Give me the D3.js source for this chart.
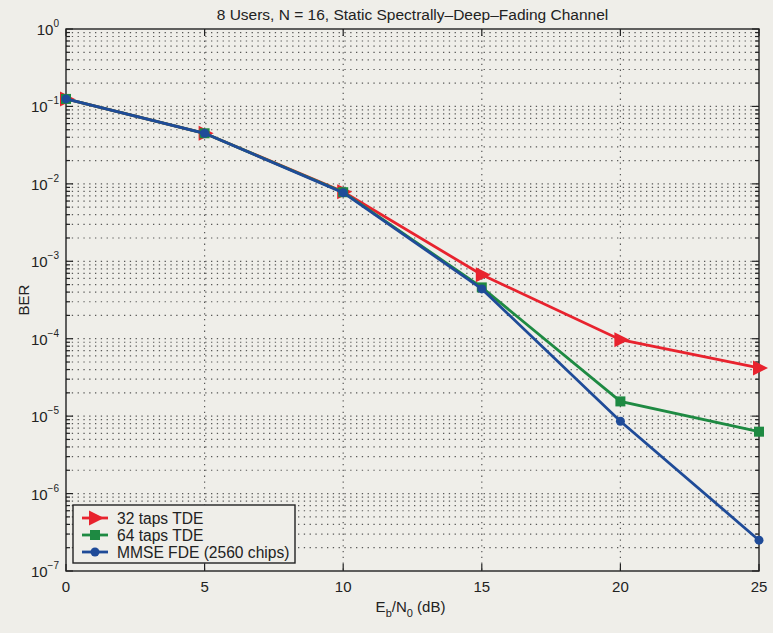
<!DOCTYPE html>
<html>
<head>
<meta charset="utf-8">
<script src="https://cdn.jsdelivr.net/npm/d3@7"></script>
<style>
  body { margin: 0; background: #efeee9; }
  svg { display: block; font-family: "Liberation Sans", Arial, sans-serif; }
</style>
</head>
<body>
<div id="okvir"></div>
<script>
const snrDb = [0, 5, 10, 15, 20, 25]
const ber32 = [0.125, 0.045, 0.0079, 6.7e-4, 9.7e-5, 4.2e-5]
const ber64 = [0.125, 0.045, 0.0078, 4.6e-4, 1.55e-5, 6.3e-6]
const berFde = [0.125, 0.045, 0.0077, 4.4e-4, 8.6e-6, 2.5e-7]
const xTicks = [0, 5, 10, 15, 20, 25]
const yExponents = [0, -1, -2, -3, -4, -5, -6, -7]
const seriesNames = ["32 taps TDE", "64 taps TDE", "MMSE FDE (2560 chips)"]

const sirina = 773, visina = 633
const margine = { top: 29, right: 14, bottom: 62, left: 66 }
const grSirina = sirina - margine.left - margine.right
const grVisina = visina - margine.top - margine.bottom

const okvir = d3.select("#okvir").append("svg")
  .attr("width", sirina).attr("height", visina)

const granice = okvir.append("g")
  .attr("transform", `translate(${margine.left},${margine.top})`)

const xSkala = d3.scaleLinear().domain([0, 25]).range([0, grSirina])
const ySkala = d3.scaleLog().domain([1e-7, 1]).range([grVisina, 0])

// minor values 2..9 per decade
const minorY = []
yExponents.slice(1).forEach(e => {
  for (let k = 2; k <= 9; k++) minorY.push(k * Math.pow(10, e))
})
const majorY = yExponents.map(e => Math.pow(10, e))

const gridBoja = "#333"
// horizontal grid
granice.append("g").selectAll("line")
  .data(minorY.concat(majorY.slice(1, -1)))
  .enter().append("line")
    .attr("x1", 0).attr("x2", grSirina)
    .attr("y1", d => ySkala(d)).attr("y2", d => ySkala(d))
    .attr("stroke", gridBoja).attr("stroke-width", 1.2).attr("opacity", 0.8)
    .attr("stroke-dasharray", "1.3,4.5")
// vertical grid
granice.append("g").selectAll("line")
  .data(xTicks.slice(1, -1))
  .enter().append("line")
    .attr("x1", d => xSkala(d)).attr("x2", d => xSkala(d))
    .attr("y1", 0).attr("y2", grVisina)
    .attr("stroke", gridBoja).attr("stroke-width", 1.2).attr("opacity", 0.8)
    .attr("stroke-dasharray", "1.3,4.5")

// ticks (inside, both sides)
const tickG = granice.append("g").attr("stroke", "#222").attr("stroke-width", 1.2)
majorY.forEach(d => {
  tickG.append("line").attr("x1", 0).attr("x2", 7).attr("y1", ySkala(d)).attr("y2", ySkala(d))
  tickG.append("line").attr("x1", grSirina).attr("x2", grSirina - 7).attr("y1", ySkala(d)).attr("y2", ySkala(d))
})
minorY.forEach(d => {
  tickG.append("line").attr("x1", 0).attr("x2", 4).attr("y1", ySkala(d)).attr("y2", ySkala(d))
  tickG.append("line").attr("x1", grSirina).attr("x2", grSirina - 4).attr("y1", ySkala(d)).attr("y2", ySkala(d))
})
xTicks.forEach(d => {
  tickG.append("line").attr("x1", xSkala(d)).attr("x2", xSkala(d)).attr("y1", grVisina).attr("y2", grVisina - 7)
  tickG.append("line").attr("x1", xSkala(d)).attr("x2", xSkala(d)).attr("y1", 0).attr("y2", 7)
})

// frame
granice.append("rect")
  .attr("width", grSirina).attr("height", grVisina)
  .attr("fill", "none").attr("stroke", "#222").attr("stroke-width", 1.4)

// tick labels
granice.append("g").selectAll("text")
  .data(xTicks).enter().append("text")
    .attr("x", d => xSkala(d)).attr("y", grVisina + 21)
    .attr("text-anchor", "middle").attr("font-size", 15).attr("fill", "#222")
    .text(d => d)

const yLab = granice.append("g").selectAll("text")
  .data(yExponents).enter().append("text")
    .attr("x", -7).attr("y", d => ySkala(Math.pow(10, d)) + 6)
    .attr("text-anchor", "end").attr("font-size", 15).attr("fill", "#222")
yLab.append("tspan").text("10")
yLab.append("tspan").attr("dy", -8).attr("font-size", 10).text(d => d === 0 ? "0" : "\u2212" + Math.abs(d))

// titles
okvir.append("text")
  .attr("x", margine.left + grSirina / 2).attr("y", 20)
  .attr("text-anchor", "middle").attr("font-size", 15.5).attr("fill", "#222")
  .text("8 Users, N = 16, Static Spectrally\u2013Deep\u2013Fading Channel")

okvir.append("text")
  .attr("transform", `translate(29,${margine.top + grVisina / 2}) rotate(-90)`)
  .attr("text-anchor", "middle").attr("font-size", 15).attr("fill", "#222")
  .text("BER")

const xNaslov = okvir.append("text")
  .attr("x", margine.left + grSirina / 2 - 2).attr("y", 612)
  .attr("text-anchor", "middle").attr("font-size", 15).attr("fill", "#222")
xNaslov.append("tspan").text("E")
xNaslov.append("tspan").attr("dy", 5).attr("font-size", 11).text("b")
xNaslov.append("tspan").attr("dy", -5).text("/N")
xNaslov.append("tspan").attr("dy", 5).attr("font-size", 11).text("0")
xNaslov.append("tspan").attr("dy", -5).text(" (dB)")

// series
const serije = [
  { ime: seriesNames[0], vrijednosti: ber32, boja: "#e8232e", marker: "tri" },
  { ime: seriesNames[1], vrijednosti: ber64, boja: "#1e8a42", marker: "sq" },
  { ime: seriesNames[2], vrijednosti: berFde, boja: "#1f4b98", marker: "dot" },
]

const linija = d3.line()
  .x(d => xSkala(d[0]))
  .y(d => ySkala(d[1]))

function crtajMarker(g, tip, boja) {
  if (tip === "tri") {
    g.append("path").attr("d", "M-6,-7.5 L9,0 L-6,7.5 Z").attr("fill", boja)
  } else if (tip === "sq") {
    g.append("rect").attr("x", -5).attr("y", -5).attr("width", 10).attr("height", 10).attr("fill", boja)
  } else {
    g.append("circle").attr("r", 4.5).attr("fill", boja)
  }
}

serije.forEach(s => {
  const tocke = snrDb.map((x, i) => [x, s.vrijednosti[i]])
  granice.append("path")
    .datum(tocke)
    .attr("d", linija)
    .attr("fill", "none").attr("stroke", s.boja).attr("stroke-width", 2.8)
  tocke.forEach(p => {
    const g = granice.append("g").attr("transform", `translate(${xSkala(p[0])},${ySkala(p[1])})`)
    crtajMarker(g, s.marker, s.boja)
  })
})

// legend
const legenda = okvir.append("g").attr("transform", "translate(73,505)")
legenda.append("rect")
  .attr("width", 222).attr("height", 58)
  .attr("fill", "#efeee9").attr("stroke", "#222").attr("stroke-width", 1.4)
serije.forEach((s, i) => {
  const y = 13 + i * 17
  legenda.append("line").attr("x1", 9).attr("x2", 35).attr("y1", y).attr("y2", y)
    .attr("stroke", s.boja).attr("stroke-width", 2.8)
  const g = legenda.append("g").attr("transform", `translate(22,${y})`)
  crtajMarker(g, s.marker, s.boja)
  legenda.append("text").attr("x", 44).attr("y", y + 5.5)
    .attr("font-size", 15.6).attr("fill", "#222").text(s.ime)
})
</script>
</body>
</html>
